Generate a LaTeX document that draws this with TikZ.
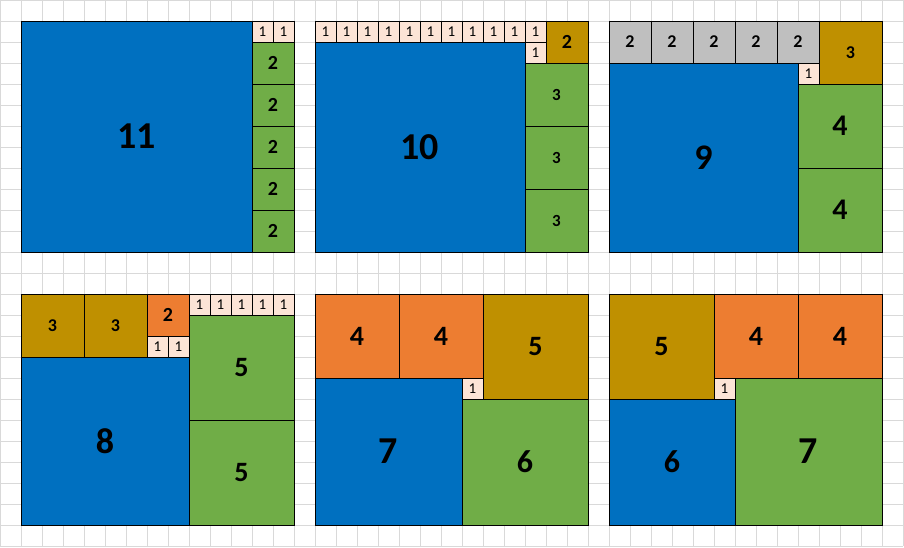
\documentclass[tikz,border=0pt]{standalone}
\usepackage{fontspec}
\setmainfont{Carlito}
\usepackage{tikz}
\usepackage{xcolor}
\definecolor{sqblue}{RGB}{0,112,192}
\definecolor{sqgreen}{RGB}{112,173,71}
\definecolor{sqgold}{RGB}{191,144,0}
\definecolor{sqorange}{RGB}{237,125,49}
\definecolor{sqgray}{RGB}{191,191,191}
\definecolor{sqpeach}{RGB}{252,228,214}
\definecolor{gridgray}{RGB}{217,217,217}

\begin{document}
\begin{tikzpicture}[x=21pt,y=-21pt]

		\tikzset{sq/.style = {draw, line width=0.9pt, inner sep=0pt, minimum size=#1*21pt}}
		\tikzset{one/.style = {sq=1, fill = sqpeach, font=\fontsize{15}{15}\selectfont}}
		\tikzset{num/.style = {font=\bfseries\fontsize{#1}{#1}\selectfont}}
		\useasboundingbox[fill=white] (0,0) rectangle (43.05,26.05);
		% background grid
		\draw[gridgray, line width=0.9pt, step=21pt] (0,0) grid (43,26);

		% First panel
		\node[sq=11, fill = sqblue, num=38] (A11) at (6.5,6.5) {11};
		\node[one] (A1a) at (12.5,1.5) {1};
		\node[one] (A1b) at (13.5,1.5) {1};
		\node[sq=2, fill = sqgreen, num=20] (A2a) at (13,3) {2};
		\node[sq=2, fill = sqgreen, num=20] (A2b) at (13,5) {2};
		\node[sq=2, fill = sqgreen, num=20] (A2c) at (13,7) {2};
		\node[sq=2, fill = sqgreen, num=20] (A2d) at (13,9) {2};
		\node[sq=2, fill = sqgreen, num=20] (A2e) at (13,11) {2};
		% Second panel
		\node[sq=10, fill = sqblue, num=38] (B10) at (20,7) {10};
		\node[one] (B1a) at (15.5,1.5) {1};
		\node[one] (B1b) at (16.5,1.5) {1};
		\node[one] (B1c) at (17.5,1.5) {1};
		\node[one] (B1d) at (18.5,1.5) {1};
		\node[one] (B1e) at (19.5,1.5) {1};
		\node[one] (B1f) at (20.5,1.5) {1};
		\node[one] (B1g) at (21.5,1.5) {1};
		\node[one] (B1h) at (22.5,1.5) {1};
		\node[one] (B1i) at (23.5,1.5) {1};
		\node[one] (B1j) at (24.5,1.5) {1};
		\node[one] (B1k) at (25.5,1.5) {1};
		\node[one] (B1l) at (25.5,2.5) {1};
		\node[sq=2, fill = sqgold, num=20] (B2) at (27,2) {2};
		\node[sq=3, fill = sqgreen, num=17] (B3a) at (26.5,4.5) {3};
		\node[sq=3, fill = sqgreen, num=17] (B3b) at (26.5,7.5) {3};
		\node[sq=3, fill = sqgreen, num=17] (B3c) at (26.5,10.5) {3};
		% Third panel
		\node[sq=2, fill = sqgray, num=18] (C2a) at (30,2) {2};
		\node[sq=2, fill = sqgray, num=18] (C2b) at (32,2) {2};
		\node[sq=2, fill = sqgray, num=18] (C2c) at (34,2) {2};
		\node[sq=2, fill = sqgray, num=18] (C2d) at (36,2) {2};
		\node[sq=2, fill = sqgray, num=18] (C2e) at (38,2) {2};
		\node[sq=3, fill = sqgold, num=18] (C3) at (40.5,2.5) {3};
		\node[sq=9, fill = sqblue, num=36] (C9) at (33.5,7.5) {9};
		\node[one] (C1) at (38.5,3.5) {1};
		\node[sq=4, fill = sqgreen, num=30] (C4a) at (40,6) {4};
		\node[sq=4, fill = sqgreen, num=30] (C4b) at (40,10) {4};
		% Fourth panel
		\node[sq=3, fill = sqgold, num=18] (D3a) at (2.5,15.5) {3};
		\node[sq=3, fill = sqgold, num=18] (D3b) at (5.5,15.5) {3};
		\node[sq=2, fill = sqorange, num=20] (D2) at (8,15) {2};
		\node[one] (D1a) at (7.5,16.5) {1};
		\node[one] (D1b) at (8.5,16.5) {1};
		\node[one] (D1c) at (9.5,14.5) {1};
		\node[one] (D1d) at (10.5,14.5) {1};
		\node[one] (D1e) at (11.5,14.5) {1};
		\node[one] (D1f) at (12.5,14.5) {1};
		\node[one] (D1g) at (13.5,14.5) {1};
		\node[sq=5, fill = sqgreen, num=28] (D5a) at (11.5,17.5) {5};
		\node[sq=5, fill = sqgreen, num=28] (D5b) at (11.5,22.5) {5};
		\node[sq=8, fill = sqblue, num=36] (D8) at (5,21) {8};
		% Fifth panel
		\node[sq=4, fill = sqorange, num=28] (E4a) at (17,16) {4};
		\node[sq=4, fill = sqorange, num=28] (E4b) at (21,16) {4};
		\node[sq=5, fill = sqgold, num=28] (E5) at (25.5,16.5) {5};
		\node[one] (E1) at (22.5,18.5) {1};
		\node[sq=7, fill = sqblue, num=38] (E7) at (18.5,21.5) {7};
		\node[sq=6, fill = sqgreen, num=32] (E6) at (25,22) {6};
		% Sixth panel
		\node[sq=5, fill = sqgold, num=28] (F5) at (31.5,16.5) {5};
		\node[sq=4, fill = sqorange, num=28] (F4a) at (36,16) {4};
		\node[sq=4, fill = sqorange, num=28] (F4b) at (40,16) {4};
		\node[one] (F1) at (34.5,18.5) {1};
		\node[sq=6, fill = sqblue, num=32] (F6) at (32,22) {6};
		\node[sq=7, fill = sqgreen, num=38] (F7) at (38.5,21.5) {7};

\end{tikzpicture}
\end{document}
